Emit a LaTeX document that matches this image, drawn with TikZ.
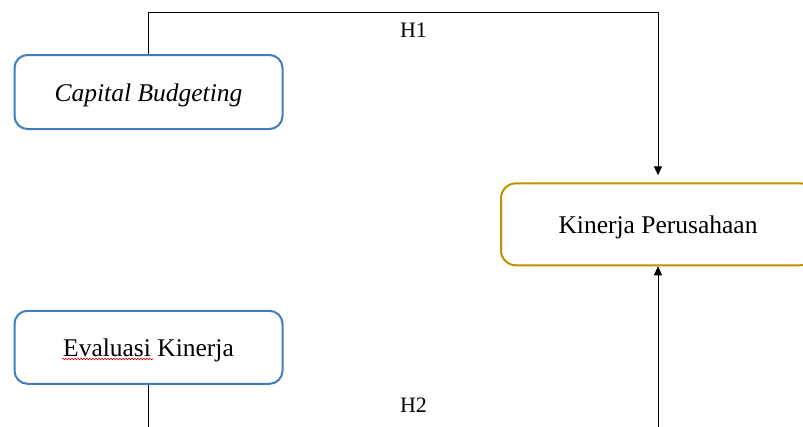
\documentclass[tikz,border=0pt]{standalone}
\usepackage{fontspec}
\setmainfont{Liberation Serif}
\usetikzlibrary{arrows.meta,decorations.pathmorphing}
\definecolor{boxblue}{RGB}{65,125,190}
\definecolor{boxgold}{RGB}{191,144,0}
\begin{document}
\begin{tikzpicture}[x=1pt,y=-1pt,
  txt/.style={font=\fontsize{25.5}{30}\selectfont,text height=18pt,text depth=0pt},
  bluebox/.style={draw=boxblue,line width=2pt,rounded corners=13pt,fill=white,
    minimum width=268pt,minimum height=74pt,inner sep=0pt,txt},
  goldbox/.style={draw=boxgold,line width=2pt,rounded corners=15pt,fill=white,
    minimum width=314pt,minimum height=82pt,inner sep=0pt,txt},
  conn/.style={draw=black,line width=1pt},
  arr/.style={conn,-{Triangle[length=9pt,width=8pt]}},
  hlab/.style={font=\fontsize{22}{26}\selectfont,inner sep=0pt}]
\useasboundingbox (0,0) rectangle (803,426);
\clip (0,0) rectangle (803,426);
\node[bluebox] (cb) at (148.5,92) {\itshape Capital Budgeting};
\node[bluebox,minimum height=73pt] (ev) at (148.5,347.3) {Evaluasi Kinerja};
\node[goldbox] (kp) at (658,224.3) {Kinerja Perusahaan};
\coordinate (t1) at (658,12.3);
\coordinate (b1) at (148.5,430);
\coordinate (b2) at (658,430);
\draw[arr,shorten >=7pt] (cb.north) |- (t1) -- (kp.north);
\draw[conn] (ev.south) -- (b1);
\draw[arr] (b2) -- (kp.south);
\node[hlab] (h1) at (413.5,30) {H1};
\node[hlab] (h2) at (413.5,405) {H2};
\draw[red!85!black,line width=0.6pt,decoration={snake,amplitude=0.8pt,segment length=3pt},decorate] (62,359) -- (153,359);
\end{tikzpicture}
\end{document}
